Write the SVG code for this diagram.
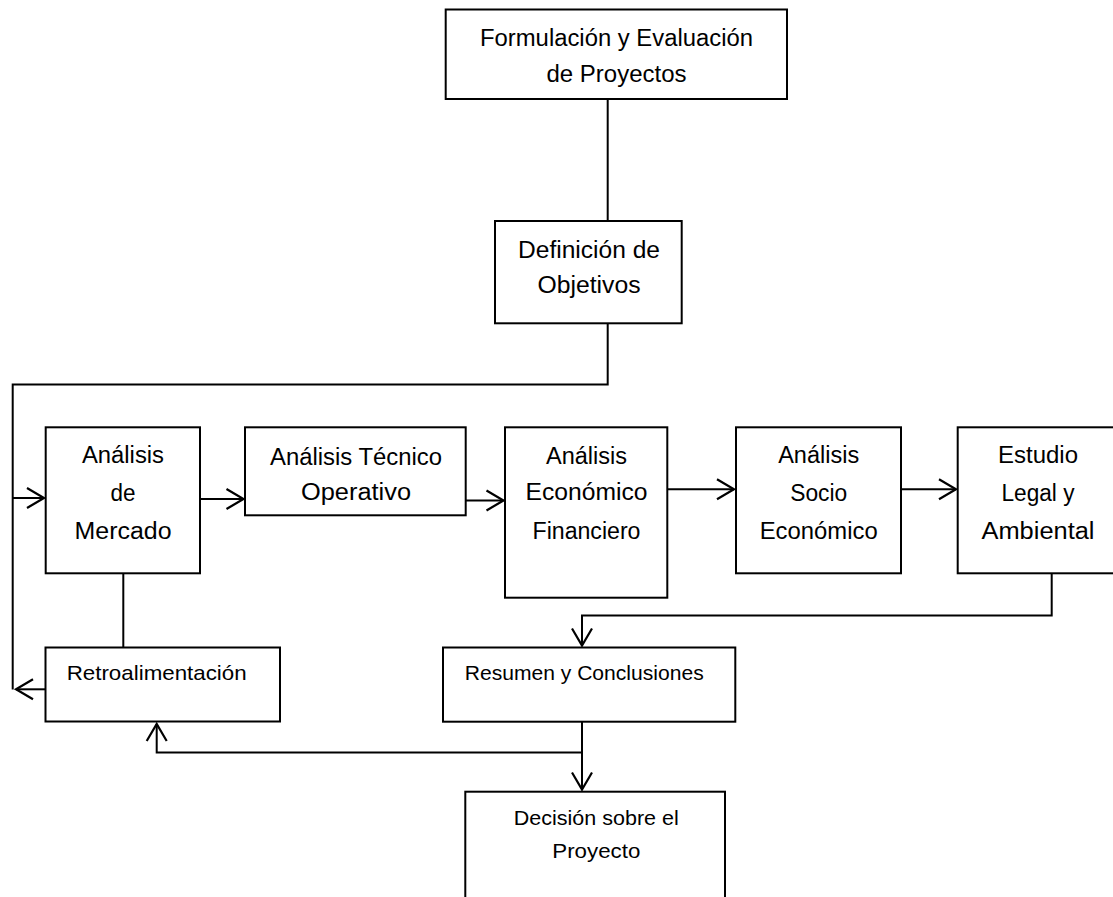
<svg xmlns="http://www.w3.org/2000/svg" width="1113" height="897" viewBox="0 0 1113 897">
<style>
  .box { fill: #ffffff; stroke: #000000; stroke-width: 2; }
  .t { font-family: "Liberation Sans", Arial, sans-serif; font-size: 23.5px; fill: #000000; text-anchor: middle; }
  .s { font-family: "Liberation Sans", Arial, sans-serif; font-size: 21px; fill: #000000; }
  .c { fill: none; stroke: #000000; stroke-width: 2; }
  .a { fill: none; stroke: #000000; stroke-width: 2; marker-end: url(#arr); }
</style>
<defs>
  <marker id="arr" markerUnits="userSpaceOnUse" markerWidth="24" markerHeight="26" viewBox="-21 -13 24 26" refX="0" refY="0" orient="auto">
    <path d="M-17,-10 L0,0 L-17,10" fill="none" stroke="#000000" stroke-width="2.2"/>
  </marker>
</defs>
<rect width="1113" height="897" fill="#ffffff"/>

<g id="connectors">
  <path class="c" d="M607.7,99 V221"/>
  <path class="c" d="M607.7,323 V384.5 H12.7 V689.5"/>
  <path class="a" d="M12.7,498 H44"/>
  <path class="a" d="M200,499 H243.5"/>
  <path class="a" d="M466,500.5 H503.5"/>
  <path class="a" d="M667,489.3 H734"/>
  <path class="a" d="M901,489.3 H956"/>
  <path class="a" d="M1051.7,573 V615.5 H582 V645.5"/>
  <path class="c" d="M123.3,573 V647.5"/>
  <path class="a" d="M45,689.3 H16"/>
  <path class="a" d="M582,721.7 V789.5"/>
  <path class="a" d="M582,752.5 H156.7 V724"/>
</g>

<g id="n-formulacion">
  <rect class="box" x="445.7" y="9.5" width="341.3" height="89.5"/>
  <text class="t" x="616.5" y="46" textLength="273" lengthAdjust="spacingAndGlyphs">Formulación y Evaluación</text>
  <text class="t" x="616.5" y="82" textLength="140" lengthAdjust="spacingAndGlyphs">de Proyectos</text>
</g>

<g id="n-definicion">
  <rect class="box" x="495" y="221" width="186.7" height="102.3"/>
  <text class="t" x="589" y="258" textLength="142" lengthAdjust="spacingAndGlyphs">Definición de</text>
  <text class="t" x="589" y="293" textLength="103" lengthAdjust="spacingAndGlyphs">Objetivos</text>
</g>

<g id="n-mercado">
  <rect class="box" x="45.7" y="427.3" width="154.3" height="146"/>
  <text class="t" x="123" y="463" textLength="82" lengthAdjust="spacingAndGlyphs">Análisis</text>
  <text class="t" x="123" y="501" textLength="25" lengthAdjust="spacingAndGlyphs">de</text>
  <text class="t" x="123" y="539" textLength="97" lengthAdjust="spacingAndGlyphs">Mercado</text>
</g>

<g id="n-tecnico">
  <rect class="box" x="245" y="427.3" width="220.7" height="88"/>
  <text class="t" x="356" y="465" textLength="172" lengthAdjust="spacingAndGlyphs">Análisis Técnico</text>
  <text class="t" x="356" y="500" textLength="110" lengthAdjust="spacingAndGlyphs">Operativo</text>
</g>

<g id="n-economico">
  <rect class="box" x="505" y="427.3" width="162.3" height="170.4"/>
  <text class="t" x="586.5" y="464" textLength="81" lengthAdjust="spacingAndGlyphs">Análisis</text>
  <text class="t" x="586.5" y="500" textLength="122" lengthAdjust="spacingAndGlyphs">Económico</text>
  <text class="t" x="586.5" y="539" textLength="108" lengthAdjust="spacingAndGlyphs">Financiero</text>
</g>

<g id="n-socio">
  <rect class="box" x="736" y="427.3" width="165" height="146"/>
  <text class="t" x="818.7" y="463" textLength="81" lengthAdjust="spacingAndGlyphs">Análisis</text>
  <text class="t" x="818.7" y="501" textLength="57" lengthAdjust="spacingAndGlyphs">Socio</text>
  <text class="t" x="818.7" y="539" textLength="118" lengthAdjust="spacingAndGlyphs">Económico</text>
</g>

<g id="n-estudio">
  <rect class="box" x="957.7" y="427.3" width="170" height="146"/>
  <text class="t" x="1038" y="463" textLength="80" lengthAdjust="spacingAndGlyphs">Estudio</text>
  <text class="t" x="1038" y="501" textLength="73" lengthAdjust="spacingAndGlyphs">Legal y</text>
  <text class="t" x="1038" y="539" textLength="113" lengthAdjust="spacingAndGlyphs">Ambiental</text>
</g>

<g id="n-retro">
  <rect class="box" x="45.5" y="647.5" width="234.5" height="74"/>
  <text class="s" x="66.7" y="680" textLength="180" lengthAdjust="spacingAndGlyphs">Retroalimentación</text>
</g>

<g id="n-resumen">
  <rect class="box" x="443" y="647.5" width="292.3" height="74.2"/>
  <text class="s" x="464.7" y="680" textLength="239" lengthAdjust="spacingAndGlyphs">Resumen y Conclusiones</text>
</g>

<g id="n-decision">
  <rect class="box" x="465.3" y="791.7" width="259.7" height="130"/>
  <text class="s" x="596.3" y="825" text-anchor="middle" textLength="165" lengthAdjust="spacingAndGlyphs">Decisión sobre el</text>
  <text class="s" x="596.3" y="858" text-anchor="middle" textLength="88" lengthAdjust="spacingAndGlyphs">Proyecto</text>
</g>
</svg>
